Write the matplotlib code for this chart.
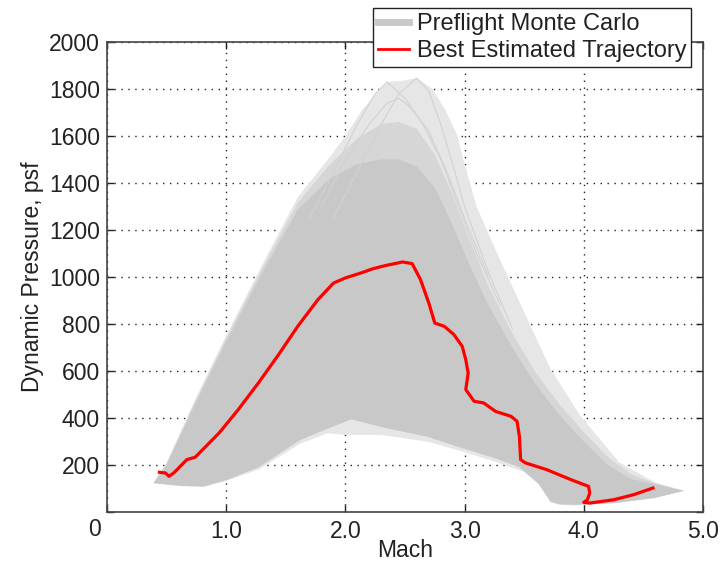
import numpy as np
import matplotlib
matplotlib.use("Agg")
import matplotlib.pyplot as plt
from matplotlib.lines import Line2D

plt.rcParams['font.family'] = ['Liberation Sans', 'DejaVu Sans']

# ---- Data ----
# Outer envelope of the preflight Monte Carlo cloud (sparse lines)
outer_up_mach = [0.39, 0.50, 0.74, 1.00, 1.30, 1.60, 1.87, 2.00, 2.14, 2.29, 2.36, 2.48, 2.60, 2.73, 2.84, 2.94, 2.99,
                 3.10, 3.30, 3.50, 3.72, 3.97, 4.30, 4.60, 4.84]
outer_up_q = [123, 210, 480, 750, 1050, 1340, 1510, 1600, 1710, 1800, 1830, 1835, 1847, 1800, 1710, 1600, 1498,
              1300, 1070, 850, 610, 410, 210, 125, 90]
outer_lo_mach = [0.39, 0.61, 0.81, 1.00, 1.27, 1.62, 1.85, 2.00, 2.30, 2.70, 2.95, 3.25, 3.50, 3.65, 3.72, 3.80,
                 3.92, 4.25, 4.59, 4.84]
outer_lo_q = [123, 110, 106, 132, 180, 290, 335, 328, 328, 298, 262, 215, 170, 110, 40, 30, 28, 36, 58, 90]

# Medium-density band
mid_up_mach = [0.39, 0.50, 0.74, 1.00, 1.30, 1.60, 1.87, 2.10, 2.30, 2.45, 2.60, 2.75, 2.90, 3.05, 3.20, 3.40, 3.60,
               3.80, 4.00, 4.20, 4.40, 4.60, 4.84]
mid_up_q = [123, 205, 470, 740, 1035, 1315, 1480, 1590, 1650, 1660, 1630, 1520, 1350, 1150, 960, 760, 590, 455,
            340, 235, 160, 122, 90]

# Dense core of the cloud
core_up_mach = [0.39, 0.50, 0.74, 1.00, 1.30, 1.60, 1.87, 2.10, 2.30, 2.45, 2.60, 2.75, 2.90, 3.05, 3.20, 3.40,
                3.60, 3.80, 4.00, 4.20, 4.40, 4.60, 4.84]
core_up_q = [123, 200, 460, 725, 1015, 1285, 1420, 1480, 1500, 1500, 1470, 1380, 1220, 1040, 880, 700,
             540, 410, 300, 200, 140, 118, 90]
core_lo_mach = [0.39, 0.61, 0.81, 1.00, 1.27, 1.62, 1.85, 2.05, 2.30, 2.70, 2.95, 3.25, 3.46, 3.62, 3.72, 3.80,
                3.92, 4.25, 4.59, 4.84]
core_lo_q = [123, 112, 109, 136, 190, 306, 355, 395, 362, 319, 277, 230, 191, 120, 45, 33, 31, 38, 60, 90]

# A few individual high trajectories visible above the cloud
traj1_mach = [1.90, 2.10, 2.30, 2.45, 2.60, 2.70, 2.80, 2.90, 3.00, 3.20, 3.40]
traj1_q = [1250, 1450, 1650, 1780, 1847, 1790, 1650, 1480, 1300, 1020, 780]
traj2_mach = [1.70, 1.90, 2.10, 2.25, 2.35, 2.50, 2.65, 2.80, 2.95, 3.10, 3.30]
traj2_q = [1250, 1450, 1650, 1780, 1830, 1760, 1650, 1500, 1300, 1100, 880]
traj3_mach = [1.80, 2.00, 2.20, 2.35, 2.45, 2.55, 2.70, 2.85, 3.00, 3.20]
traj3_q = [1300, 1500, 1650, 1740, 1760, 1720, 1620, 1450, 1250, 1000]

# Best estimated trajectory
bet_mach = [0.44, 0.49, 0.52, 0.56, 0.67, 0.74, 0.94, 1.10, 1.27, 1.44, 1.60, 1.77, 1.90, 2.00, 2.13, 2.23,
            2.33, 2.48, 2.56, 2.63, 2.70, 2.75, 2.83, 2.91, 2.98, 3.01, 3.03, 3.01, 3.08, 3.16, 3.26, 3.39,
            3.44, 3.46, 3.47, 3.51, 3.69, 3.89, 4.04, 4.05, 4.03, 4.00, 4.05, 4.25, 4.42, 4.58]
bet_q = [169, 166, 152, 166, 223, 233, 336, 435, 549, 670, 790, 904, 974, 996, 1017, 1035,
         1048, 1064, 1057, 989, 889, 804, 790, 755, 705, 648, 591, 521, 471, 464, 428, 407,
         386, 322, 223, 209, 180, 138, 109, 81, 52, 41, 38, 52, 74, 102]

x_ticks = [0, 1, 2, 3, 4, 5]
x_ticklabels = ['', '1.0', '2.0', '3.0', '4.0', '5.0']
y_ticks = [0, 200, 400, 600, 800, 1000, 1200, 1400, 1600, 1800, 2000]
y_ticklabels = ['', '200', '400', '600', '800', '1000', '1200', '1400', '1600', '1800', '2000']

# ---- Figure ----
fig = plt.figure(figsize=(7.26, 5.63), dpi=100)
ax = fig.add_axes([0.1474, 0.0906, 0.8209, 0.8348])

grey = '#c8c8c8'
fs = 16.5

def poly(ux, uy, lx, ly):
    return list(ux) + list(lx)[::-1], list(uy) + list(ly)[::-1]

px, py = poly(outer_up_mach, outer_up_q, outer_lo_mach, outer_lo_q)
ax.fill(px, py, color='#e6e6e6', lw=0, zorder=1)
px, py = poly(mid_up_mach, mid_up_q, core_lo_mach, core_lo_q)
ax.fill(px, py, color='#d6d6d6', lw=0, zorder=1.1)
px, py = poly(core_up_mach, core_up_q, core_lo_mach, core_lo_q)
ax.fill(px, py, color=grey, lw=0, zorder=1.2)
for tx, tq in [(traj1_mach, traj1_q), (traj2_mach, traj2_q), (traj3_mach, traj3_q)]:
    ax.plot(tx, tq, color='#d2d2d2', lw=0.8, zorder=1.3)

ax.plot(bet_mach, bet_q, color='#ff0000', lw=2.3, zorder=3, solid_joinstyle='round')

ax.set_xlim(0, 5)
ax.set_ylim(0, 2000)
ax.set_xticks(x_ticks)
ax.set_xticklabels(x_ticklabels)
ax.set_yticks(y_ticks)
ax.set_yticklabels(y_ticklabels)
ax.annotate('0', xy=(0, 0), xycoords='data', xytext=(-13, -18), textcoords='offset pixels',
            ha='center', va='center', fontsize=fs, color='#222222')

ax.set_axisbelow(True)
ax.grid(True, linestyle=(0, (1, 4)), color='#222222', lw=1.0, zorder=0.5)
ax.tick_params(direction='in', length=5, width=1, top=True, right=True, labelsize=fs,
               colors='#222222', labelcolor='#222222')
ax.tick_params(axis='x', pad=6)
ax.tick_params(axis='y', pad=5)
for s in ax.spines.values():
    s.set_color('#444444')
    s.set_linewidth(1.2)
    s.set_zorder(4)

ax.set_xlabel('Mach', fontsize=fs, color='#222222', labelpad=-3)
ax.set_ylabel('Dynamic Pressure, psf', fontsize=fs, color='#222222', labelpad=4)

handles = [Line2D([], [], color=grey, lw=5),
           Line2D([], [], color='#ff0000', lw=2)]
leg = fig.legend(handles, ['Preflight Monte Carlo', 'Best Estimated Trajectory'],
                 loc='upper right', bbox_to_anchor=(0.952, 0.985), bbox_transform=fig.transFigure,
                 fontsize=17, handlelength=1.3, handletextpad=0.35, borderpad=0.2,
                 labelspacing=0.2, fancybox=False, framealpha=1, edgecolor='#222222',
                 borderaxespad=0)
leg.get_frame().set_linewidth(1.0)
for t in leg.get_texts():
    t.set_color('#222222')

fig.savefig('out.png', dpi=100)
